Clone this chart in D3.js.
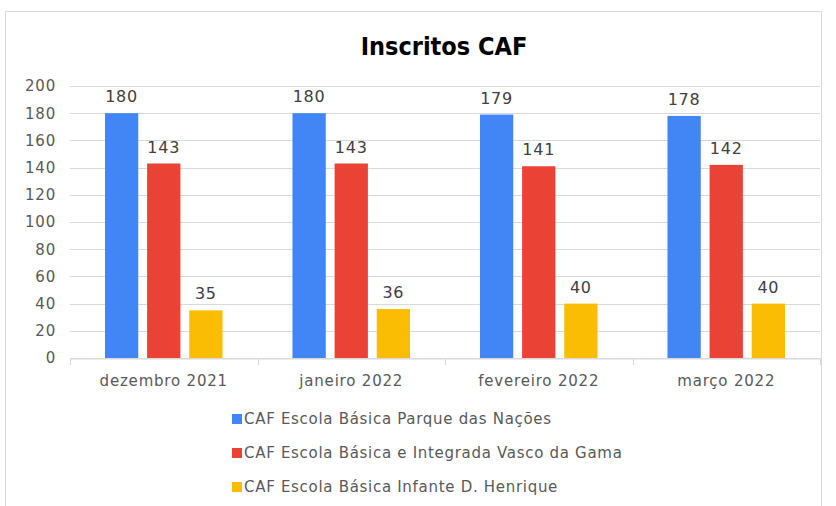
<!DOCTYPE html>
<html>
<head>
<meta charset="utf-8">
<script src="https://cdn.jsdelivr.net/npm/d3@7"></script>
<style>
  body { margin: 0; background: #fff; }
  text { font-family: "DejaVu Sans", Verdana, sans-serif; }
</style>
</head>
<body>
<svg id="chart" width="836" height="506"></svg>
<script>
const months = ['dezembro 2021', 'janeiro 2022', 'fevereiro 2022', 'março 2022'];
const seriesNames = [
  'CAF Escola Básica Parque das Nações',
  'CAF Escola Básica e Integrada Vasco da Gama',
  'CAF Escola Básica Infante D. Henrique'
];
const parqueNacoes = [180, 180, 179, 178];
const vascoGama = [143, 143, 141, 142];
const infanteHenrique = [35, 36, 40, 40];
const yTicks = [0, 20, 40, 60, 80, 100, 120, 140, 160, 180, 200];
const colors = ['#4285F4', '#EA4335', '#FBBC04'];

const series = [parqueNacoes, vascoGama, infanteHenrique];
const svg = d3.select('#chart');

// chart frame
svg.append('rect')
  .attr('x', 5.5).attr('y', 11.5)
  .attr('width', 816).attr('height', 520)
  .attr('fill', 'none').attr('stroke', '#d9d9d9');

const plotLeft = 70, plotRight = 820, plotTop = 86, plotBottom = 358;

const x = d3.scaleBand().domain(months).range([plotLeft, plotRight]);
const xInner = d3.scaleBand().domain(d3.range(3)).range([0, x.bandwidth()])
  .paddingInner(0.21).paddingOuter(0.83);
const y = d3.scaleLinear().domain([0, 200]).range([plotBottom, plotTop]);

svg.append('text')
  .attr('x', 444).attr('y', 55)
  .attr('text-anchor', 'middle')
  .style('font-family', '"DejaVu Sans Condensed", "DejaVu Sans", sans-serif')
  .style('font-weight', 'bold')
  .style('font-size', '25px')
  .attr('fill', '#000')
  .text('Inscritos CAF');

// gridlines
svg.append('g')
  .selectAll('line')
  .data(yTicks)
  .join('line')
  .attr('x1', plotLeft).attr('x2', plotRight)
  .attr('y1', d => Math.round(y(d)) + 0.5).attr('y2', d => Math.round(y(d)) + 0.5)
  .attr('stroke', '#d9d9d9');

// y axis labels
const yAxis = svg.append('g')
  .attr('transform', `translate(${plotLeft},0)`)
  .call(d3.axisLeft(y).tickValues(yTicks).tickSize(0).tickPadding(14));
yAxis.select('.domain').remove();
yAxis.selectAll('text')
  .style('font-family', '"DejaVu Sans", sans-serif')
  .style('font-size', '15px')
  .style('letter-spacing', '0.8px')
  .attr('fill', '#595959');

// x axis
const xAxis = svg.append('g')
  .attr('transform', `translate(0,${plotBottom + 0.5})`)
  .call(d3.axisBottom(x).tickSize(0).tickPadding(17));
xAxis.select('.domain').attr('stroke', '#d9d9d9');
xAxis.selectAll('text')
  .style('font-family', '"DejaVu Sans", sans-serif')
  .style('font-size', '15px')
  .style('letter-spacing', '0.8px')
  .attr('fill', '#595959');
// category separators
svg.append('g')
  .selectAll('line')
  .data(d3.range(months.length + 1))
  .join('line')
  .attr('x1', i => Math.round(plotLeft + i * x.step()) + 0.5)
  .attr('x2', i => Math.round(plotLeft + i * x.step()) + 0.5)
  .attr('y1', plotBottom).attr('y2', plotBottom + 7)
  .attr('stroke', '#d9d9d9');

// bars
const groups = svg.append('g')
  .selectAll('g')
  .data(series)
  .join('g')
  .attr('fill', (d, i) => colors[i]);

groups.each(function(vals, si) {
  const g = d3.select(this);
  g.selectAll('rect')
    .data(vals)
    .join('rect')
    .attr('x', (d, i) => x(months[i]) + xInner(si))
    .attr('width', xInner.bandwidth())
    .attr('y', d => y(d))
    .attr('height', d => plotBottom - y(d));
  g.selectAll('text')
    .data(vals)
    .join('text')
    .attr('x', (d, i) => x(months[i]) + xInner(si) + xInner.bandwidth() / 2)
    .attr('y', d => y(d) - 11)
    .attr('text-anchor', 'middle')
    .style('font-size', '16px')
    .style('letter-spacing', '0.8px')
    .attr('fill', '#404040')
    .text(d => d);
});

// legend
const legend = svg.append('g')
  .selectAll('g')
  .data(seriesNames)
  .join('g')
  .attr('transform', (d, i) => `translate(232,${419 + i * 34})`);
legend.append('rect')
  .attr('x', 0).attr('y', -5).attr('width', 10).attr('height', 10)
  .attr('fill', (d, i) => colors[i]);
legend.append('text')
  .attr('x', 12).attr('y', 0).attr('dy', '0.35em')
  .style('font-size', '15px')
  .style('letter-spacing', '0.7px')
  .attr('fill', '#595959')
  .text(d => d);
</script>
</body>
</html>
